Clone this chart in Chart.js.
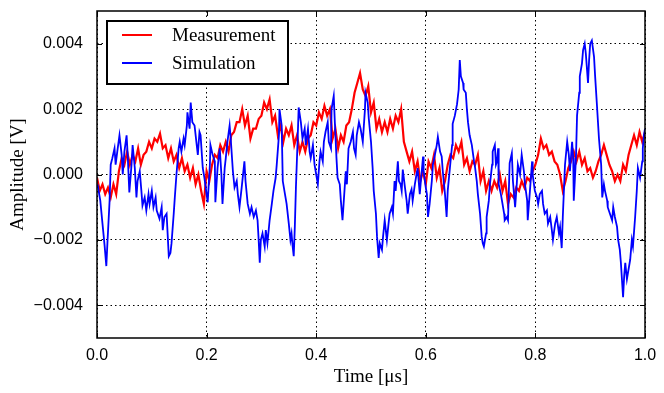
<!DOCTYPE html>
<html>
<head>
<meta charset="utf-8">
<script src="https://cdn.jsdelivr.net/npm/chart.js@4/dist/chart.umd.min.js"></script>
<style>
  html, body { margin: 0; padding: 0; background: #fff; }
  #wrap { width: 664px; height: 393px; }
</style>
</head>
<body>
<div id="wrap"><canvas id="signalChart" width="664" height="393"></canvas></div>
<script>
// time axis ticks and amplitude ticks
const xTicks = [0, 0.2, 0.4, 0.6, 0.8, 1.0];
const yTicks = [-0.004, -0.002, 0, 0.002, 0.004];

const measTime = [
  0,0.005,0.01,0.015,0.02,0.025,0.03,0.035,0.04,0.045,
  0.05,0.055,0.06,0.065,0.07,0.075,0.08,0.085,0.09,0.095,
  0.1,0.105,0.11,0.115,0.12,0.125,0.13,0.135,0.14,0.145,
  0.15,0.155,0.16,0.165,0.17,0.175,0.18,0.185,0.19,0.195,
  0.2,0.205,0.21,0.215,0.22,0.225,0.23,0.235,0.24,0.245,
  0.25,0.255,0.26,0.265,0.27,0.275,0.28,0.285,0.29,0.295,
  0.3,0.305,0.31,0.315,0.32,0.325,0.33,0.335,0.34,0.345,
  0.35,0.355,0.36,0.365,0.37,0.375,0.38,0.385,0.39,0.395,
  0.4,0.405,0.41,0.415,0.42,0.425,0.43,0.435,0.44,0.445,
  0.45,0.455,0.46,0.465,0.47,0.475,0.48,0.485,0.49,0.495,
  0.5,0.505,0.51,0.515,0.52,0.525,0.53,0.535,0.54,0.545,
  0.55,0.555,0.56,0.565,0.57,0.575,0.58,0.585,0.59,0.595,
  0.6,0.605,0.61,0.615,0.62,0.625,0.63,0.635,0.64,0.645,
  0.65,0.655,0.66,0.665,0.67,0.675,0.68,0.685,0.69,0.695,
  0.7,0.705,0.71,0.715,0.72,0.725,0.73,0.735,0.74,0.745,
  0.75,0.755,0.76,0.765,0.77,0.775,0.78,0.785,0.79,0.795,
  0.8,0.805,0.81,0.815,0.82,0.825,0.83,0.835,0.84,0.845,
  0.85,0.855,0.86,0.865,0.87,0.875,0.88,0.885,0.89,0.895,
  0.9,0.905,0.91,0.915,0.92,0.925,0.93,0.935,0.94,0.945,
  0.95,0.955,0.96,0.965,0.97,0.975,0.98,0.985,0.99,0.995,
  1.0
];
const measurement = [
  -0.0001,-0.0005,-0.0003,-0.0006,-0.0004,-0.0007,-0.0003,-0.0006,0.0001,0.0005,
  0.0003,0.0007,0.0003,0.0006,0.0004,0.0008,0.0003,0.0006,0.0007,0.0010,
  0.0008,0.0011,0.0010,0.00125,0.0008,0.0009,0.0005,0.0008,0.0004,0.0006,
  0.0002,0.0005,0.0001,0.0003,-0.0001,0.0002,-0.0003,0.0000,-0.0005,-0.0009,
  0.0001,-0.0002,0.0003,0.0006,0.0005,0.0009,0.0007,0.0010,0.0007,0.0012,
  0.0013,0.0016,0.0016,0.0020,0.0015,0.0018,0.0011,0.0014,0.0014,0.0017,
  0.0018,0.0022,0.0020,0.0023,0.0016,0.0018,0.0012,0.0015,0.0010,0.0014,
  0.0012,0.0015,0.0009,0.0012,0.0007,0.0010,0.0007,0.0011,0.0012,0.0016,
  0.0015,0.0019,0.0017,0.0021,0.0018,0.0020,0.0011,0.0014,0.0008,0.0012,
  0.0010,0.0015,0.0016,0.0020,0.0025,0.0028,0.0031,0.0026,0.0024,0.0027,
  0.0019,0.0022,0.0014,0.0017,0.0013,0.0016,0.0013,0.0017,0.0014,0.0018,
  0.0016,0.0020,0.0010,0.0007,0.0004,0.0007,0.0001,0.0004,-0.0002,0.0001,
  -0.0003,0.0004,0.0002,0.0006,-0.0001,0.0002,-0.0005,-0.0002,0.0003,0.0006,
  0.0005,0.0009,0.0007,0.0010,0.0003,0.0005,0.0001,0.0004,0.0003,0.0006,
  -0.0002,0.0001,-0.0005,-0.0002,-0.0005,-0.0002,-0.0004,0.0000,-0.0005,-0.0002,
  -0.0009,-0.0006,-0.0007,-0.0004,-0.0005,-0.0002,-0.0004,-0.0001,-0.0002,0.0001,
  0.0003,0.0006,0.0011,0.0008,0.0009,0.0006,0.0007,0.0004,0.0003,0.0000,
  -0.0005,-0.0002,0.0002,0.0004,0.0007,0.0004,0.0007,0.0003,0.0005,0.0001,
  0.0002,-0.0001,0.0001,0.0004,0.0006,0.0009,0.0006,0.0003,0.0001,-0.0002,
  0.0000,-0.0002,0.0003,0.0001,0.0006,0.0009,0.0012,0.0009,0.0013,0.0010,
  0.0013
];

// Simulation (blue)
const simTime = [
  0.001,0.003,0.006,0.010,0.014,0.017,0.019,0.023,0.025,0.028,
  0.032,0.034,0.037,0.041,0.045,0.047,0.050,0.054,0.056,0.059,
  0.063,0.065,0.069,0.072,0.074,0.078,0.081,0.083,0.087,0.090,
  0.094,0.096,0.100,0.103,0.107,0.109,0.114,0.118,0.120,0.123,
  0.127,0.131,0.134,0.136,0.140,0.142,0.145,0.149,0.151,0.154,
  0.158,0.160,0.164,0.165,0.169,0.171,0.174,0.178,0.182,0.184,
  0.187,0.189,0.193,0.196,0.200,0.202,0.206,0.207,0.211,0.215,
  0.216,0.220,0.224,0.227,0.229,0.233,0.235,0.238,0.242,0.244,
  0.248,0.251,0.255,0.257,0.260,0.264,0.269,0.271,0.275,0.279,
  0.282,0.286,0.290,0.293,0.295,0.297,0.299,0.302,0.306,0.308,
  0.311,0.315,0.319,0.322,0.326,0.328,0.332,0.333,0.337,0.339,
  0.343,0.346,0.350,0.353,0.355,0.357,0.359,0.361,0.363,0.366,
  0.368,0.372,0.375,0.379,0.381,0.385,0.388,0.390,0.394,0.397,
  0.401,0.403,0.406,0.408,0.412,0.414,0.417,0.421,0.423,0.427,
  0.428,0.432,0.434,0.437,0.439,0.443,0.445,0.448,0.450,0.454,
  0.456,0.459,0.463,0.467,0.469,0.472,0.474,0.478,0.481,0.485,
  0.489,0.490,0.494,0.496,0.500,0.503,0.505,0.509,0.511,0.514,
  0.516,0.520,0.522,0.525,0.529,0.532,0.534,0.538,0.540,0.543,
  0.545,0.549,0.551,0.554,0.556,0.558,0.562,0.565,0.567,0.571,
  0.574,0.576,0.580,0.584,0.585,0.589,0.591,0.595,0.596,0.600,
  0.602,0.604,0.607,0.611,0.613,0.616,0.620,0.622,0.626,0.629,
  0.631,0.635,0.638,0.640,0.644,0.648,0.649,0.653,0.657,0.660,
  0.662,0.664,0.668,0.669,0.673,0.675,0.677,0.680,0.684,0.688,
  0.690,0.693,0.695,0.699,0.702,0.704,0.706,0.710,0.711,0.715,
  0.717,0.721,0.722,0.726,0.728,0.730,0.732,0.733,0.737,0.739,
  0.743,0.744,0.748,0.750,0.753,0.757,0.759,0.763,0.766,0.768,
  0.772,0.775,0.779,0.781,0.785,0.786,0.790,0.794,0.795,0.799,
  0.803,0.805,0.808,0.812,0.814,0.817,0.821,0.823,0.827,0.830,
  0.832,0.836,0.839,0.843,0.845,0.848,0.850,0.854,0.858,0.861,
  0.863,0.867,0.869,0.870,0.874,0.876,0.880,0.881,0.885,0.887,
  0.890,0.892,0.896,0.898,0.900,0.903,0.907,0.909,0.912,0.916,
  0.920,0.922,0.925,0.927,0.931,0.932,0.936,0.940,0.942,0.945,
  0.949,0.951,0.954,0.956,0.960,0.962,0.964,0.967,0.969,0.973,
  0.976,0.978,0.982,0.985,0.987,0.991,0.995,0.996,0.998,1.000
];
const simulation = [
  -0.0003,-0.0005,-0.0008,-0.0015,-0.0022,-0.0028,-0.0021,-0.0008,0.0003,0.0005,
  0.0008,0.0003,0.0007,0.0012,0.0006,0.0000,0.0007,0.0012,0.0006,-0.00055,
  0.0003,0.0009,0.0002,-0.0007,-0.0002,0.0001,-0.0005,-0.00095,-0.0007,-0.0011,
  -0.0006,-0.0009,-0.0005,-0.0010,-0.0007,-0.0011,-0.00135,-0.0010,-0.0017,-0.0013,
  -0.0012,-0.0025,-0.0024,-0.0021,-0.0012,-0.0007,0.0000,0.0008,0.0010,0.0007,
  0.0011,0.0009,0.0015,0.0019,0.0014,0.0022,0.0016,0.0015,0.0009,0.0006,
  0.0013,0.0012,0.0002,-0.0001,-0.0006,-0.00085,0.0003,0.0009,0.0006,0.0004,
  -0.00085,0.0002,0.0008,0.0000,-0.0009,0.0002,0.0005,0.0010,0.0015,0.0011,
  0.0001,-0.0004,-0.0002,-0.0006,-0.0010,-0.0004,0.0004,-0.0002,-0.0009,-0.0012,
  -0.0010,-0.0013,-0.0011,-0.0014,-0.0020,-0.0027,-0.0020,-0.0018,-0.0022,-0.0017,
  -0.0021,-0.0014,-0.0009,-0.0005,-0.0001,0.0003,0.0012,0.0020,0.0015,-0.0002,
  -0.0006,-0.0009,-0.0015,-0.0020,-0.0018,-0.0022,-0.0025,-0.0016,-0.0004,0.0010,
  0.00205,0.0016,0.0011,0.0014,0.0009,0.0014,0.0007,0.0005,0.0009,0.0003,
  -0.0001,-0.0003,0.0004,0.0007,0.0004,0.0010,0.0013,0.0016,0.0010,0.0008,
  0.0020,0.0024,0.0016,0.0005,-0.0001,-0.0003,-0.0008,-0.0014,-0.0009,0.0001,
  -0.0003,0.0008,0.0010,0.0013,0.0008,0.0006,0.0012,0.0016,0.0014,0.0010,
  0.0020,0.0025,0.0022,0.0017,0.0010,0.0002,-0.0005,-0.0012,-0.0019,-0.00255,
  -0.0021,-0.0023,-0.0019,-0.0014,-0.0020,-0.0015,-0.0012,-0.0010,-0.0012,-0.0002,
  -0.0005,0.0004,-0.0002,-0.0003,-0.0005,0.00015,-0.0004,-0.0008,-0.0012,-0.0006,
  -0.00045,-0.0008,-0.0003,0.0001,0.0002,-0.0006,-0.0002,0.00055,0.0001,-0.0004,
  -0.0006,-0.0013,-0.0009,-0.0002,0.0003,0.00055,0.0009,0.00115,0.0007,0.00055,
  0.0001,-0.0006,-0.0013,-0.0005,0.0002,0.0009,0.00155,0.0018,0.00215,0.0026,
  0.0035,0.0030,0.0028,0.0026,0.0025,0.0020,0.0016,0.0012,0.0009,0.0004,
  0.0002,-0.0002,-0.0006,-0.0012,-0.0019,-0.0021,-0.0022,-0.0018,-0.0013,-0.0008,
  -0.0003,0.0003,0.0007,0.0009,0.0003,0.0004,0.0008,-0.0003,-0.0006,-0.0008,
  -0.0012,-0.0014,-0.0013,-0.0014,0.00035,0.00065,-0.0002,-0.0010,-0.0003,0.0003,
  0.0000,0.0006,0.0001,-0.0003,-0.0008,-0.0014,-0.0005,0.0004,0.0000,-0.0005,
  -0.0007,-0.0009,-0.0006,-0.0005,-0.0009,-0.0012,-0.0011,-0.0015,-0.0013,-0.0017,
  -0.0020,-0.0015,-0.0013,-0.0018,-0.0016,-0.00225,-0.0013,0.0003,0.0010,0.0006,
  0.0001,0.0010,0.0005,-0.0008,0.0005,0.0018,0.0025,0.0030,0.0034,0.0038,
  0.0040,0.0037,0.0028,0.0035,0.0040,0.0041,0.0036,0.0030,0.0022,0.0011,
  0.0003,-0.0007,-0.0003,-0.0005,-0.0008,-0.0010,-0.0012,-0.0014,-0.0010,-0.0013,
  -0.0016,-0.0020,-0.0023,-0.0027,-0.00375,-0.0031,-0.0027,-0.0032,-0.0030,-0.0026,
  -0.0020,-0.0022,-0.0013,-0.0005,0.0002,-0.0001,0.0004,0.0008,0.0012,0.0014
];

function toPoints(xs, ys) {
  return xs.map((x, i) => ({ x: x, y: ys[i] }));
}

function fmtAmp(v) {
  const s = Math.abs(v).toFixed(3);
  return v < -1e-9 ? '\u2212' + s : s;
}

// solid frame with small inward ticks, like the matplotlib axes
const framePlugin = {
  id: 'frame',
  afterDraw(chart) {
    const { ctx, chartArea: a, scales } = chart;
    ctx.save();
    ctx.strokeStyle = '#000';
    ctx.lineWidth = 1;
    ctx.beginPath();
    xTicks.forEach(v => {
      const px = Math.round(scales.x.getPixelForValue(v)) + 0.5;
      ctx.moveTo(px, a.bottom); ctx.lineTo(px, a.bottom - 5);
      ctx.moveTo(px, a.top); ctx.lineTo(px, a.top + 5);
    });
    yTicks.forEach(v => {
      const py = Math.round(scales.y.getPixelForValue(v)) + 0.5;
      ctx.moveTo(a.left, py); ctx.lineTo(a.left + 5, py);
      ctx.moveTo(a.right, py); ctx.lineTo(a.right - 5, py);
    });
    ctx.stroke();
    ctx.lineWidth = 1.5;
    ctx.strokeRect(a.left, a.top, a.right - a.left, a.bottom - a.top);
    ctx.restore();
  }
};

// legend box in the upper left corner of the plot
const legendPlugin = {
  id: 'boxLegend',
  afterDraw(chart) {
    const { ctx } = chart;
    const x0 = 107, y0 = 21, w = 181, h = 63;
    ctx.save();
    ctx.fillStyle = '#fff';
    ctx.fillRect(x0, y0, w, h);
    ctx.strokeStyle = '#000';
    ctx.lineWidth = 2;
    ctx.strokeRect(x0, y0, w, h);
    ctx.font = '19px "Liberation Serif", "Times New Roman", serif';
    ctx.textBaseline = 'middle';
    ctx.textAlign = 'left';
    const rows = [35, 63];
    chart.data.datasets.forEach((ds, i) => {
      const y = rows[i];
      ctx.strokeStyle = ds.borderColor;
      ctx.lineWidth = 2;
      ctx.beginPath();
      ctx.moveTo(122, y); ctx.lineTo(152, y);
      ctx.stroke();
      ctx.fillStyle = '#000';
      ctx.fillText(ds.label, 172, y + 1);
    });
    ctx.restore();
  }
};

const ctx = document.getElementById('signalChart').getContext('2d');
new Chart(ctx, {
  type: 'line',
  data: {
    datasets: [
      {
        label: 'Measurement',
        data: toPoints(measTime, measurement),
        borderColor: '#ff0000',
        borderWidth: 2.2,
        pointRadius: 0,
        tension: 0,
        order: 1
      },
      {
        label: 'Simulation',
        data: toPoints(simTime, simulation),
        borderColor: '#0000ff',
        borderWidth: 1.8,
        pointRadius: 0,
        tension: 0,
        order: 0
      }
    ]
  },
  options: {
    responsive: false,
    animation: false,
    layout: { padding: { top: 11, right: 19, left: 0, bottom: 0 } },
    plugins: {
      legend: { display: false },
      tooltip: { enabled: false }
    },
    scales: {
      x: {
        type: 'linear',
        min: 0,
        max: 1,
        afterBuildTicks: ax => { ax.ticks = xTicks.map(v => ({ value: v })); },
        afterFit: ax => { ax.height = 55; ax.paddingLeft = 0; ax.paddingRight = 0; },
        grid: { color: '#000', lineWidth: 1, drawTicks: false },
        border: { display: false, dash: [1.5, 3] },
        ticks: {
          color: '#000',
          padding: 8,
          maxRotation: 0,
          font: { family: '"Liberation Sans", Arial, sans-serif', size: 16 },
          callback: v => Number(v).toFixed(1)
        },
        title: {
          display: true,
          text: 'Time [\u03bcs]',
          color: '#000',
          font: { family: '"Liberation Serif", "Times New Roman", serif', size: 19 },
          padding: { top: 0, bottom: 5 }
        }
      },
      y: {
        min: -0.005,
        max: 0.005,
        afterBuildTicks: ax => { ax.ticks = yTicks.map(v => ({ value: v })); },
        afterFit: ax => { ax.width = 97; ax.paddingTop = 0; ax.paddingBottom = 0; },
        grid: { color: '#000', lineWidth: 1, drawTicks: false },
        border: { display: false, dash: [1.5, 3] },
        ticks: {
          color: '#000',
          padding: 14,
          font: { family: '"Liberation Sans", Arial, sans-serif', size: 16 },
          callback: v => fmtAmp(v)
        },
        title: {
          display: true,
          text: 'Amplitude [V]',
          color: '#000',
          font: { family: '"Liberation Serif", "Times New Roman", serif', size: 19 },
          padding: { top: 7, bottom: 0 }
        }
      }
    }
  },
  plugins: [framePlugin, legendPlugin]
});
</script>
</body>
</html>
